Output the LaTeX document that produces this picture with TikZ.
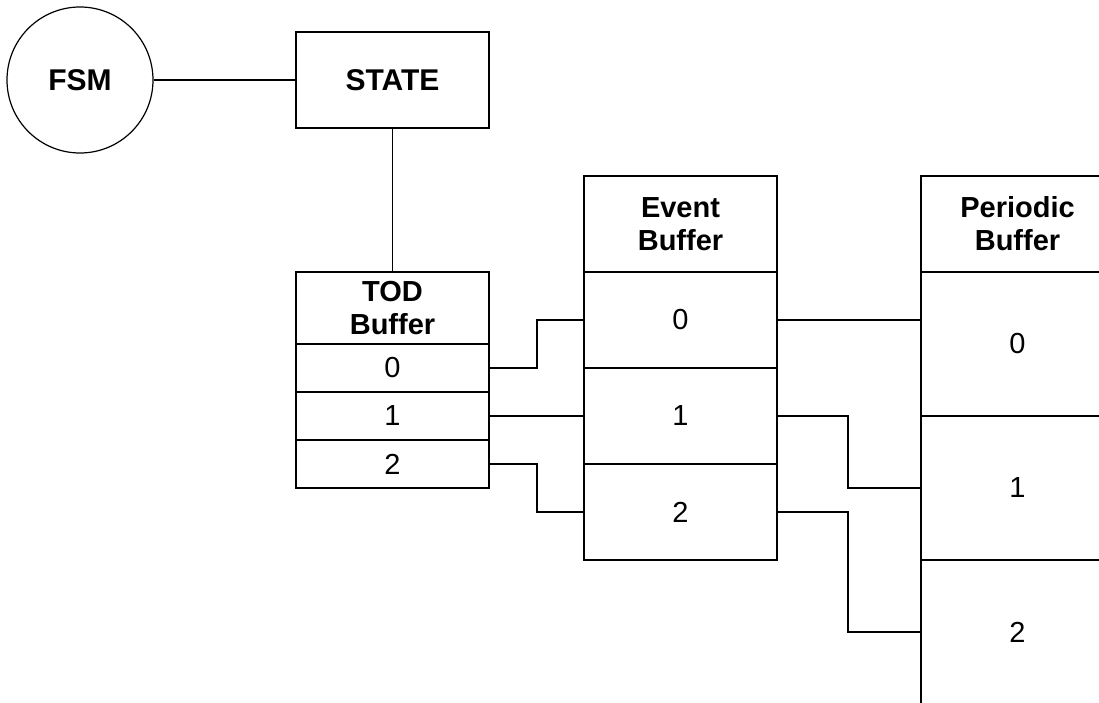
\documentclass[tikz,border=0pt]{standalone}
\usepackage{fontspec}
\setmainfont{Liberation Sans}
\usetikzlibrary{positioning}

\begin{document}
\begin{tikzpicture}[x=1pt, y=-1pt, line width=1.2pt, node distance=0pt,
  cell/.style={draw, minimum width=193pt, inner sep=0pt, outer sep=0pt,
    align=center, font=\fontsize{29}{33}\selectfont},
  head/.style={cell, font=\fontsize{29}{33}\selectfont\bfseries}]
  \useasboundingbox (0,0) rectangle (1099,703);
  \clip (0,0) rectangle (1099,703);

  \node[draw, circle, minimum size=146pt, inner sep=0pt,
    font=\fontsize{30}{33}\selectfont\bfseries] (fsm) at (80,80) {FSM};
  \node[head, minimum height=96pt, font=\fontsize{30}{33}\selectfont\bfseries]
    (state) at (392.5,80) {STATE};

  % TOD buffer
  \node[head, minimum height=72pt] (todhead) at (392.5,308) {TOD\\Buffer};
  \node[cell, minimum height=48pt, below=of todhead] (tod0) {0};
  \node[cell, minimum height=48pt, below=of tod0] (tod1) {1};
  \node[cell, minimum height=48pt, below=of tod1] (tod2) {2};

  % Event buffer
  \node[head, minimum height=96pt] (evhead) at (680.5,224) {Event\\Buffer};
  \node[cell, minimum height=96pt, below=of evhead] (ev0) {0};
  \node[cell, minimum height=96pt, below=of ev0] (ev1) {1};
  \node[cell, minimum height=96pt, below=of ev1] (ev2) {2};

  % Periodic buffer
  \node[head, minimum height=96pt] (perhead) at (1017.5,224) {Periodic\\Buffer};
  \node[cell, minimum height=144pt, below=of perhead] (per0) {0};
  \node[cell, minimum height=144pt, below=of per0] (per1) {1};
  \node[cell, minimum height=144pt, below=of per1] (per2) {2};

  \draw (fsm) -- (state);
  \draw (state.south) -- (todhead.north);

  \draw (tod0.east) -- ++(48,0) |- (ev0.west);
  \draw (tod1.east) -- (ev1.west);
  \draw (tod2.east) -- ++(48,0) |- (ev2.west);

  \draw (ev0.east) -- (ev0.east -| per0.west);
  \draw (ev1.east) -- ++(71,0) |- (per1.west);
  \draw (ev2.east) -- ++(71,0) |- (per2.west);
\end{tikzpicture}
\end{document}
